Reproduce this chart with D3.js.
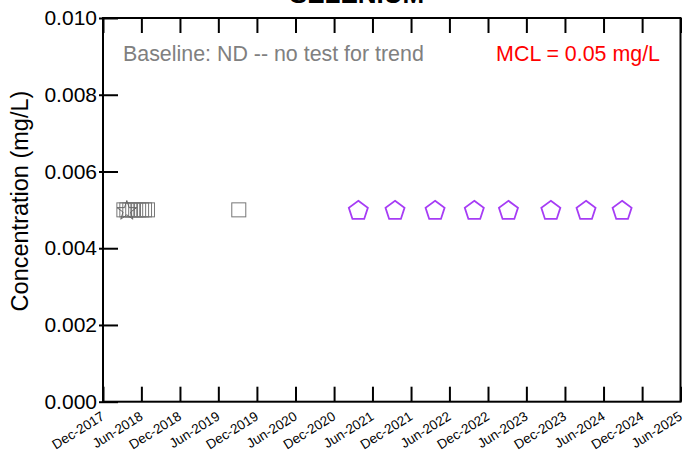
<!DOCTYPE html>
<html><head><meta charset="utf-8">
<script src="https://cdn.jsdelivr.net/npm/d3@7"></script>
<style>body{margin:0;background:#fff}svg{display:block}text{font-family:"Liberation Sans",Arial,sans-serif}</style>
</head><body>
<svg id="c" width="685" height="453"></svg>
<script>
const title = "SELENIUM";
const yLabel = "Concentration (mg/L)";
const baselineText = "Baseline: ND -- no test for trend";
const mclText = "MCL = 0.05 mg/L";
const yTicks = [0, 0.002, 0.004, 0.006, 0.008, 0.010];
const xTickLabels = ["Dec-2017","Jun-2018","Dec-2018","Jun-2019","Dec-2019","Jun-2020","Dec-2020","Jun-2021","Dec-2021","Jun-2022","Dec-2022","Jun-2023","Dec-2023","Jun-2024","Dec-2024","Jun-2025"];
const squareDates = ["2018-03-10","2018-03-24","2018-04-07","2018-04-21","2018-05-05","2018-05-19","2018-06-02","2018-06-16","2018-06-30","2019-09-06"];
const squareValues = [0.005,0.005,0.005,0.005,0.005,0.005,0.005,0.005,0.005,0.005];
const starDates = ["2018-03-24"];
const starValues = [0.005];
const pentDates = ["2021-03-26","2021-09-16","2022-03-25","2022-09-27","2023-03-08","2023-09-25","2024-03-10","2024-08-28"];
const pentValues = [0.005,0.005,0.005,0.005,0.005,0.005,0.005,0.005];

const svg = d3.select("#c");
const L = 103, R = 680.5, T = 18, B = 401.7;
const parse = d3.timeParse("%Y-%m-%d");
const mon = d3.timeParse("%b-%Y");
const x = d3.scaleTime().domain([mon("Dec-2017"), mon("Jun-2025")]).range([L, R]);
const y = d3.scaleLinear().domain([0, 0.010]).range([B, T]);

// title (cut off at top in the reference)
svg.append("text").attr("x", 357).attr("y", 3).attr("text-anchor","middle")
  .attr("font-size", 26).attr("font-weight","bold").text(title);

// frame
svg.append("rect").attr("x", L).attr("y", T).attr("width", R-L).attr("height", B-T)
  .attr("fill","none").attr("stroke","#000").attr("stroke-width",2);

// x ticks bottom & top (inward)
const xt = xTickLabels.map(s => mon(s));
const gx = svg.append("g").attr("transform",`translate(0,${B})`)
  .call(d3.axisBottom(x).tickValues(xt).tickSize(-15).tickFormat(d3.timeFormat("%b-%Y")));
gx.select(".domain").remove();
gx.selectAll(".tick line").attr("stroke-width",2);
gx.selectAll(".tick text").attr("font-size",13.5).attr("text-anchor","end")
  .attr("dy",0).attr("y",0).attr("fill","#000")
  .attr("transform","translate(2,17) rotate(-32)");
const gxt = svg.append("g").attr("transform",`translate(0,${T})`)
  .call(d3.axisTop(x).tickValues(xt).tickSize(-15).tickFormat(""));
gxt.select(".domain").remove();
gxt.selectAll(".tick line").attr("stroke-width",2);

// y axis
const gy = svg.append("g").attr("transform",`translate(${L},0)`)
  .call(d3.axisLeft(y).tickValues(yTicks).tickSize(0).tickFormat(d3.format(".3f")));
gy.select(".domain").remove();
gy.selectAll(".tick text").attr("font-size",21).attr("x",-6).attr("fill","#000");
gy.selectAll(".tick").append("line").attr("x1",-4).attr("x2",15).attr("stroke","#000").attr("stroke-width",2);

svg.append("text").attr("transform",`translate(28,201) rotate(-90)`)
  .attr("text-anchor","middle").attr("font-size",23.5).text(yLabel);

// annotations
svg.append("text").attr("x",123).attr("y",61).attr("font-size",21.4).attr("fill","#808080").text(baselineText);
svg.append("text").attr("x",660).attr("y",61).attr("text-anchor","end").attr("font-size",21.4).attr("fill","#ff0000").text(mclText);

// squares
svg.append("g").selectAll("rect").data(squareDates.map((d,i)=>({d:parse(d),v:squareValues[i]})))
  .join("rect").attr("x",p=>x(p.d)-7).attr("y",p=>y(p.v)-7).attr("width",14).attr("height",14)
  .attr("fill","none").attr("stroke","#777").attr("stroke-width",1);

// stars
const star = d3.symbol().type(d3.symbolStar).size(120);
svg.append("g").selectAll("path").data(starDates.map((d,i)=>({d:parse(d),v:starValues[i]})))
  .join("path").attr("d",star).attr("transform",p=>`translate(${x(p.d)},${y(p.v)+1})`)
  .attr("fill","none").attr("stroke","#666").attr("stroke-width",1);

// pentagons
function pent(r){const pts=[];for(let k=0;k<5;k++){const a=-Math.PI/2+k*2*Math.PI/5;pts.push([r*Math.cos(a),r*Math.sin(a)]);}return "M"+pts.map(p=>p.join(",")).join("L")+"Z";}
svg.append("g").selectAll("path").data(pentDates.map((d,i)=>({d:parse(d),v:pentValues[i]})))
  .join("path").attr("d",pent(10)).attr("transform",p=>`translate(${x(p.d)},${y(p.v)+1})`)
  .attr("fill","none").attr("stroke","#a63cf5").attr("stroke-width",1.8);
</script>
</body></html>
